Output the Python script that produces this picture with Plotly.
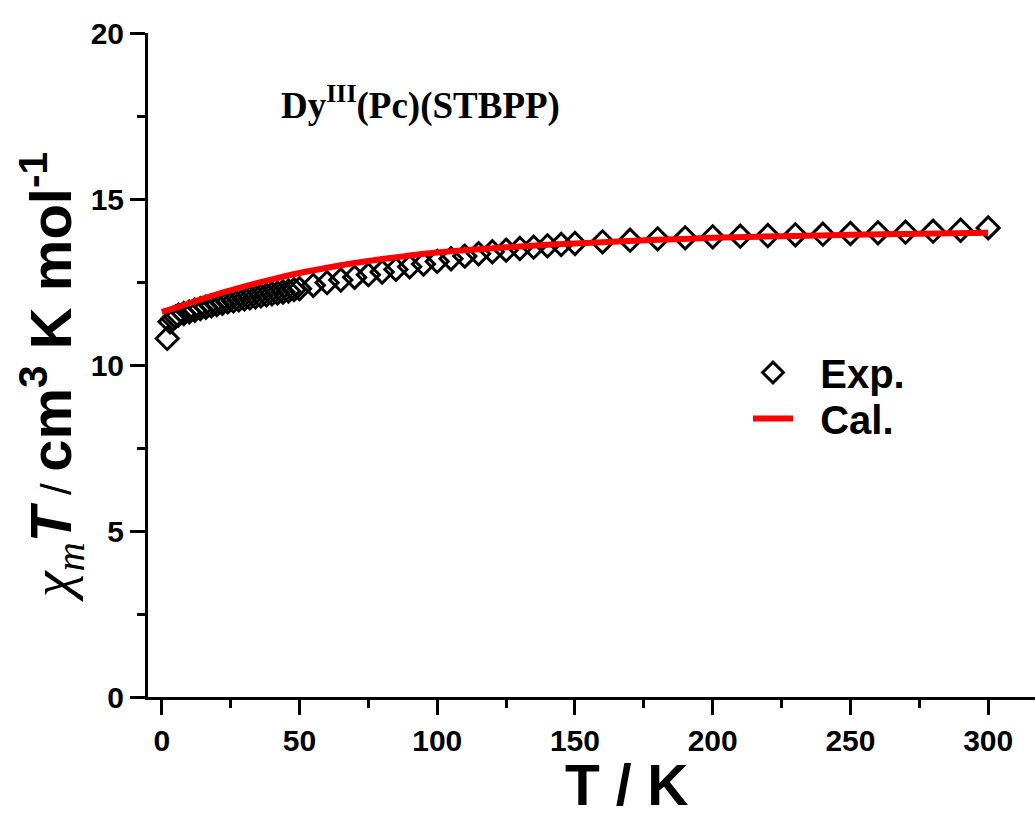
import plotly.graph_objects as go

# Experimental chi_m*T data
exp_T = [2, 3, 4, 5, 6, 8, 10, 12, 14, 16, 18, 20, 22, 24, 26, 28, 30, 32, 34, 36, 38, 40,
         42, 44, 46, 48, 50, 55, 60, 65, 70, 75, 80, 85, 90, 95, 100, 105, 110, 115, 120,
         125, 130, 135, 140, 145, 150, 160, 170, 180, 190, 200, 210, 220, 230, 240, 250,
         260, 270, 280, 290, 300]
exp_chiT = [10.8, 11.3, 11.4, 11.45, 11.5, 11.55, 11.6, 11.65, 11.7, 11.74, 11.78, 11.82,
            11.86, 11.9, 11.93, 11.96, 11.99, 12.02, 12.05, 12.08, 12.11, 12.14, 12.17,
            12.2, 12.23, 12.27, 12.3, 12.4, 12.48, 12.56, 12.64, 12.72, 12.8, 12.88, 12.96,
            13.04, 13.12, 13.2, 13.28, 13.35, 13.41, 13.46, 13.51, 13.55, 13.59, 13.63,
            13.66, 13.71, 13.76, 13.8, 13.83, 13.86, 13.88, 13.9, 13.92, 13.94, 13.96,
            13.98, 14.0, 14.03, 14.06, 14.13]

# Calculated curve
cal_T = [0, 5, 10, 15, 20, 25, 30, 40, 50, 60, 70, 80, 90, 100, 120, 140, 160, 180, 200,
         225, 250, 275, 300]
cal_chiT = [11.6, 11.72, 11.86, 12.0, 12.13, 12.25, 12.37, 12.58, 12.77, 12.93, 13.07,
            13.19, 13.3, 13.39, 13.52, 13.62, 13.7, 13.77, 13.83, 13.88, 13.92, 13.95, 13.98]

x_ticks = [0, 50, 100, 150, 200, 250, 300]
y_ticks = [0, 5, 10, 15, 20]

W, H = 1035, 828
ML, MR, MT, MB = 148, 0, 33, 131
PW, PH = W - ML - MR, H - MT - MB


def px_x(px):
    return (px - ML) / PW


def px_y(py):
    return (H - MB - py) / PH


fig = go.Figure()
fig.add_trace(go.Scatter(
    x=exp_T, y=exp_chiT, mode="markers", name="\u00a0\u00a0Exp.", legend="legend",
    marker=dict(symbol="diamond-open", size=17, color="black",
                line=dict(width=3, color="black")),
))
fig.add_trace(go.Scatter(
    x=cal_T, y=cal_chiT, mode="lines", name="\u00a0\u00a0Cal.", legend="legend2",
    line=dict(color="#ff0000", width=6, shape="spline"),
))

axis_font = dict(family="Liberation Sans, Arial", size=30, color="black", weight="bold")
leg_font = dict(family="Liberation Sans, Arial", size=40, color="black", weight="bold")

fig.update_layout(
    width=W, height=H,
    margin=dict(l=ML, r=MR, t=MT, b=MB, pad=0),
    paper_bgcolor="white", plot_bgcolor="white",
    showlegend=True,
    legend=dict(
        x=px_x(748), y=px_y(340), xanchor="left", yanchor="top",
        font=leg_font, bgcolor="rgba(0,0,0,0)", itemwidth=40,
    ),
    legend2=dict(
        x=px_x(748), y=px_y(386), xanchor="left", yanchor="top",
        font=leg_font, bgcolor="rgba(0,0,0,0)", itemwidth=40,
    ),
    xaxis=dict(
        range=[-5, 317], showgrid=False, zeroline=False,
        showline=True, linecolor="black", linewidth=3, mirror=False,
        ticks="outside", ticklen=15, tickwidth=3, tickcolor="black",
        tickvals=x_ticks, ticktext=[str(v) for v in x_ticks],
        tickfont=axis_font,
        minor=dict(ticks="outside", ticklen=8, tickwidth=3, tickcolor="black", dtick=25,
                   tick0=0, showgrid=False),
    ),
    yaxis=dict(
        range=[0, 20], showgrid=False, zeroline=False,
        showline=True, linecolor="black", linewidth=3, mirror=False,
        ticks="outside", ticklen=15, tickwidth=3, tickcolor="black",
        tickvals=y_ticks, ticktext=[str(v) for v in y_ticks],
        tickfont=axis_font,
        minor=dict(ticks="outside", ticklen=8, tickwidth=3, tickcolor="black", dtick=2.5,
                   tick0=0, showgrid=False),
    ),
    annotations=[
        dict(
            text="T / K", xref="paper", yref="paper",
            x=px_x(627), y=px_y(785),
            xanchor="center", yanchor="middle", showarrow=False,
            font=dict(family="Liberation Sans, Arial", size=57, color="black", weight="bold"),
        ),
        dict(
            text=("<span style='font-family:Liberation Serif;font-weight:normal'><i>χ<sub>m</sub></i></span>"
                  "<i>T</i><span style='font-weight:normal;font-size:42px'> / </span>"
                  "cm<sup>3</sup> K mol<sup>-1</sup>"),
            xref="paper", yref="paper",
            x=px_x(51), y=px_y(377),
            xanchor="center", yanchor="middle", textangle=-90, showarrow=False,
            font=dict(family="Liberation Sans, Arial", size=58, color="black", weight="bold"),
        ),
        dict(
            text="Dy<sup>III</sup>(Pc)(STBPP)",
            xref="paper", yref="paper",
            x=px_x(279), y=px_y(103),
            xanchor="left", yanchor="middle", showarrow=False,
            font=dict(family="Liberation Serif, Times New Roman", size=37, color="black",
                      weight="bold"),
        ),
    ],
)

fig.write_html("out.html", config={"displayModeBar": False},
               post_script="document.body.style.margin='0';")
